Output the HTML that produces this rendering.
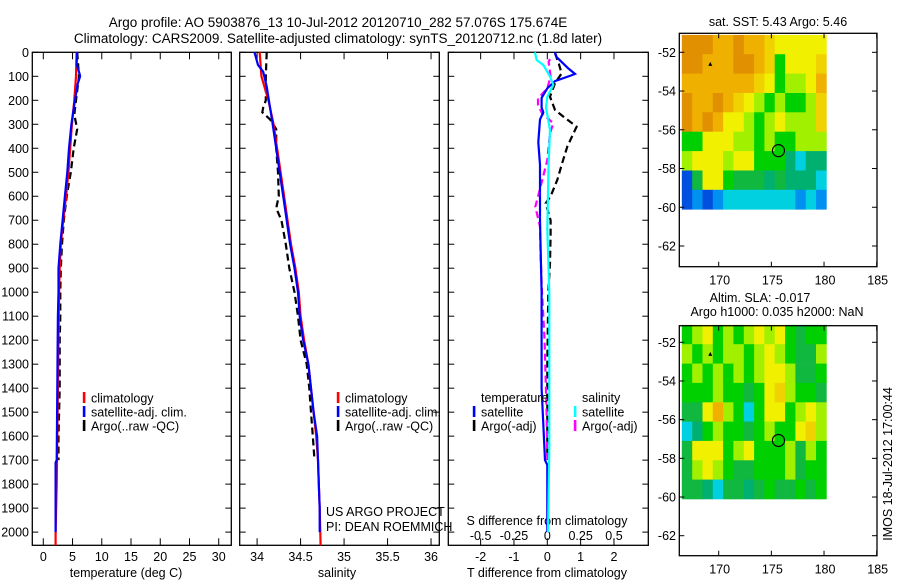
<!DOCTYPE html>
<html><head><meta charset="utf-8"><style>
html,body{margin:0;padding:0;background:#fff;}
svg text{font-family:"Liberation Sans",sans-serif;fill:#000;}
</style></head><body>
<svg id="fig" width="900" height="580" viewBox="0 0 900 580" xmlns="http://www.w3.org/2000/svg">
<text x="338" y="27" font-size="13.5" text-anchor="middle">Argo profile: AO 5903876_13 10-Jul-2012 20120710_282 57.076S 175.674E</text>
<text x="338" y="43" font-size="13.5" text-anchor="middle">Climatology: CARS2009. Satellite-adjusted climatology: synTS_20120712.nc (1.8d later)</text>
<g id="g"></g>
</svg>
<script>
// ---------- data ----------
const depthTicks=[0,100,200,300,400,500,600,700,800,900,1000,1100,1200,1300,1400,1500,1600,1700,1800,1900,2000];
const tempTicks=[0,5,10,15,20,25,30];
const salTicks=[34,34.5,35,35.5,36];
const salTickLabels=["34","34.5","35","35.5","36"];
const tdiffTicks=[-2,-1,0,1,2];
const sdiffTicks=[-0.5,-0.25,0,0.25,0.5];
const sdiffTickLabels=["-0.5","-0.25","0","0.25","0.5"];
const lonTicks=[170,175,180,185];
const latTicks=[-52,-54,-56,-58,-60,-62];

const climTdepth=[0,100,200,300,400,500,600,700,800,900,1000,1200,1400,1600,1800,2000,2055];
const climTval=[5.7,5.6,5.3,4.9,4.6,4.3,3.9,3.4,3.0,2.8,2.7,2.6,2.5,2.4,2.3,2.1,2.1];
const satTdepth=[0,50,90,100,130,200,300,400,500,600,700,800,900,1000,1100,1400,1700,1710,2000];
const satTval=[5.8,5.7,6.2,6.3,5.9,5.4,4.8,4.4,4.1,3.7,3.3,2.9,2.6,2.6,2.5,2.4,2.3,2.1,2.1];
const argoTdepth=[0,100,200,260,320,400,500,600,700,800,900,1000,1100,1200,1400,1600,1700];
const argoTval=[5.8,6.1,5.6,5.3,5.8,5.2,4.7,4.0,3.5,3.2,3.0,2.9,2.9,2.8,2.8,2.6,2.6];

const climSdepth=[0,100,200,300,400,500,600,700,800,900,1000,1100,1200,1300,1400,1500,1600,1700,1800,1900,2055];
const climSval=[34.03,34.05,34.13,34.19,34.23,34.27,34.31,34.35,34.39,34.44,34.48,34.50,34.54,34.59,34.62,34.65,34.68,34.70,34.71,34.72,34.73];
const satSdepth=[0,53,81,143,300,400,500,600,700,800,900,1000,1100,1200,1300,1400,1500,1600,1700,1800,1900,2000];
const satSval=[33.97,34.01,34.07,34.11,34.18,34.22,34.26,34.30,34.34,34.38,34.43,34.47,34.49,34.53,34.59,34.62,34.65,34.69,34.70,34.71,34.72,34.72];
const argoSdepth=[0,100,200,230,250,280,320,400,500,600,650,700,800,900,1000,1100,1200,1300,1400,1500,1600,1700];
const argoSval=[34.11,34.10,34.10,34.07,34.06,34.15,34.22,34.22,34.24,34.25,34.22,34.28,34.33,34.37,34.43,34.47,34.50,34.57,34.60,34.62,34.64,34.66];

const satTdDepth=[0,20,67,90,97,120,150,190,230,250,280,375,470,570,700,1000,1400,1700,1720,2000];
const satTdVal=[0.23,0.28,0.63,0.83,0.7,0.23,0,-0.17,-0.17,-0.12,-0.22,-0.27,-0.22,-0.22,-0.22,-0.17,-0.17,-0.07,0,0];
const argoTdDepth=[4,50,88,129,185,240,270,310,393,460,532,600,630,700,760,879,1000,1300,1700];
const argoTdVal=[0.23,0.35,0.43,0.23,0.08,0.23,0.5,0.88,0.6,0.45,0.3,0.1,-0.05,0.1,0.1,0.08,0.03,0,0];
const satSdDepth=[0,32,53,101,136,185,230,324,463,740,1000,1650,2000];
const satSdVal=[-0.093,-0.08,-0.03,0.02,0.045,0,-0.01,0.02,0.01,0,0.015,0.015,0.005];
const argoSdDepth=[28,40,101,150,192,219,254,296,338,449,602,643,726,850,1000,1200,1500,1700];
const argoSdVal=[0.02,0.01,0.025,0,-0.07,-0.07,-0.04,0.045,0.02,0,-0.07,-0.09,-0.055,-0.05,-0.04,-0.02,-0.005,0];

const gridLon0=166.5, gridLonStep=0.98, gridLat0=-51.1, gridLatStep=-1.0;
const sstGrid=[
[7,7,7,6.5,6.5,7,6.5,6.5,6,5.5,5.5,5.5,5.5,5.5],
[7,7,6.5,6.5,6.5,7,7,6.5,6,4.5,5.5,5.5,5.5,6],
[6.5,6.5,6.5,6.5,6.5,6.5,6.5,6,5.5,4.5,5,5,5.5,6.5],
[7,6.5,6.5,7,6.5,6,5.5,5,4.5,5,4.5,4.5,5,6],
[7,6.5,7,6.5,5.5,5.5,5,4.5,5,5.5,5,5,5,6],
[4.5,4.5,5.5,5.5,5.5,5,5,4.5,5,4.5,4.5,5,5,5],
[5,5.5,5.5,5.5,5,5.5,5.5,4.5,4.5,4.5,3.5,3,3.5,3.5],
[2,4,5.5,5.5,4.5,4,4,4,3.5,4,3.5,3.5,3.5,3],
[2,2.5,2,2.5,3,3,3,3,3,3,3,2.5,3,2.5]];
const slaGrid=[
[4.5,5,5.5,4.5,5,4.5,5,5.5,5,5.5,4.5,4,4.5,4.5],
[5,4.5,5,4.5,5,5,4.5,5,5.5,5,4.5,4,4,5],
[4.5,5,4.5,5,4.5,5,4.5,5,5.5,5.5,5,4,4,4.5],
[4.5,4.5,4.5,5,4.5,4.5,4,4.5,5.5,6,5,4.5,4.5,4],
[4,4,5.5,6.5,5,4.5,3,4.5,5.5,5.5,4.5,5,5.5,5],
[3,3.5,4.5,5,4.5,4.5,4,4.5,5,4.5,4.5,5.5,6,5],
[4,5.5,5.5,5.5,4.5,5,5.5,4.5,4.5,4.5,5,4,5,4.5],
[4,5,5.5,5,4.5,4,4,4.5,4.5,4.5,5,4,4.5,4.5],
[4,4,3.5,3,4,4,3.5,4,4.5,4,4,4.5,4,4.5]];
const argoLon=175.674, argoLat=-57.076;
const markLon=169.2, markLat=-52.6;

// ---------- helpers ----------
const NS="http://www.w3.org/2000/svg";
const G=document.getElementById('g');
function mk(tag,attrs,parent){const e=document.createElementNS(NS,tag);for(const k in attrs)e.setAttribute(k,attrs[k]);(parent||G).appendChild(e);return e;}
function lin(d0,d1,r0,r1){return v=>r0+(v-d0)*(r1-r0)/(d1-d0);}

const PT=52.3, PB=545.3;
const yD=lin(0,2055,PT,PB);
const panels=[
 {name:'temperature-panel',l:32.3,r:231.3,x:lin(-1.88,32.15,32.3,231.3)},
 {name:'salinity-panel',l:239.7,r:439.3,x:lin(33.80,36.095,239.7,439.3)},
 {name:'difference-panel',l:448.3,r:648.3,x:lin(-2.97,3.03,448.3,648.3)}];
const xS=lin(-2.97/4,3.03/4,448.3,648.3);

panels.forEach((p,i)=>{
 const fr=mk('rect',{x:p.l,y:PT,width:p.r-p.l,height:PB-PT,fill:'none',stroke:'#000','stroke-width':1.3});
 
 
 depthTicks.forEach(d=>{
  mk('line',{x1:p.l,x2:p.l+6,y1:yD(d),y2:yD(d),stroke:'#000'});
  mk('line',{x1:p.r,x2:p.r-6,y1:yD(d),y2:yD(d),stroke:'#000'});
 });
});
depthTicks.forEach(d=>{
 const t=mk('text',{x:29,y:yD(d)+4.5,'font-size':12.5,'text-anchor':'end'});
 
 
 t.textContent=d;
});
function xticks(p,ticks,labels,ly){
 ticks.forEach((v,i)=>{
  const x=p.x(v);
  mk('line',{x1:x,x2:x,y1:PT,y2:PT+7,stroke:'#000'});
  mk('line',{x1:x,x2:x,y1:PB,y2:PB-7,stroke:'#000'});
  const t=mk('text',{x:x,y:ly,'font-size':12.5,'text-anchor':'middle'});
  
  
  t.textContent=labels?labels[i]:v;
 });
}
xticks(panels[0],tempTicks,null,561);
xticks(panels[1],salTicks,salTickLabels,561);
xticks(panels[2],tdiffTicks,null,561);
sdiffTicks.forEach((v,i)=>{
 const t=mk('text',{x:xS(v),y:540,'font-size':12.5,'text-anchor':'middle'});
 
 
 t.textContent=sdiffTickLabels[i];
});
function label(txt,x,y,name,anchor,size){const t=mk('text',{x:x,y:y,'font-size':size||12.5,'text-anchor':anchor||'middle'});
 
 
 t.textContent=txt;return t;}
label('temperature (deg C)',126,577,'x-axis-title-temperature');
label('salinity',337,577,'x-axis-title-salinity');
label('T difference from climatology',547,577,'x-axis-title-t-diff');
label('S difference from climatology',547,525,'s-diff-axis-title');
label('US ARGO PROJECT',326,516,'project-label','start');
label('PI: DEAN ROEMMICH',326,531,'pi-label','start');

function series(depths,vals,xf,color,dash,name){
 const pts=depths.map((d,i)=>xf(vals[i]).toFixed(1)+','+yD(d).toFixed(1)).join(' ');
 const a={points:pts,fill:'none',stroke:color,'stroke-width':2.2};
 if(dash)a['stroke-dasharray']=dash;
 const e=mk('polyline',a);
 
 
}
const X0=panels[0].x,X1=panels[1].x,X2=panels[2].x;
series(argoTdepth,argoTval,X0,'#000','7,4','argo-temperature-line');
series(climTdepth,climTval,X0,'#f00',null,'climatology-temperature-line');
series(satTdepth,satTval,X0,'#00f',null,'satellite-temperature-line');
series(argoSdepth,argoSval,X1,'#000','7,4','argo-salinity-line');
series(climSdepth,climSval,X1,'#f00',null,'climatology-salinity-line');
series(satSdepth,satSval,X1,'#00f',null,'satellite-salinity-line');
series(argoTdDepth,argoTdVal,X2,'#000','7,4','argo-t-diff-line');
series(argoSdDepth,argoSdVal,xS,'#f0f','7,4','argo-s-diff-line');
series(satTdDepth,satTdVal,X2,'#00f',null,'satellite-t-diff-line');
series(satSdDepth,satSdVal,xS,'#0ff',null,'satellite-s-diff-line');

function legend(x,y,color,txt,name){
 const b=mk('rect',{x:x-1.2,y:y-6,width:2.6,height:11,fill:color});
 
 
 label(txt,x+7,y+4.5,name+'-label','start');
}
legend(84,398,'#f00','climatology','legend-t-climatology');
legend(84,412,'#00f','satellite-adj. clim.','legend-t-satellite');
legend(84,426,'#000','Argo(..raw -QC)','legend-t-argo');
legend(338,398,'#f00','climatology','legend-s-climatology');
legend(338,412,'#00f','satellite-adj. clim.','legend-s-satellite');
legend(338,426,'#000','Argo(..raw -QC)','legend-s-argo');
label('temperature',481,402,'legend-diff-temperature-heading','start');
label('salinity',582,402,'legend-diff-salinity-heading','start');
legend(474,412,'#00f','satellite','legend-diff-t-satellite');
legend(474,426,'#000','Argo(-adj)','legend-diff-t-argo');
legend(575,412,'#0ff','satellite','legend-diff-s-satellite');
legend(575,426,'#f0f','Argo(-adj)','legend-diff-s-argo');

// ---------- maps ----------
const stops=[[1.5,[0,16,160]],[2,[0,80,224]],[2.5,[0,144,240]],[3,[0,208,224]],[3.5,[0,176,112]],[4,[16,184,64]],[4.5,[0,208,0]],[5,[160,240,0]],[5.5,[240,240,0]],[6,[240,210,0]],[6.5,[240,176,0]],[7,[224,144,0]]];
function cmap(v){
 if(v<=stops[0][0])return 'rgb('+stops[0][1]+')';
 for(let i=1;i<stops.length;i++){if(v<=stops[i][0]){const a=stops[i-1],b=stops[i],t=(v-a[0])/(b[0]-a[0]);
  return 'rgb('+a[1].map((c,j)=>Math.round(c+(b[1][j]-c)*t)).join(',')+')';}}
 return 'rgb('+stops[stops.length-1][1]+')';
}
function drawMap(name,top,bottom,lat52y,lat62y,grid){
 const L=679.3,R=877;
 const xL=lin(170,185,718.7,876.7), yL=lin(-52,-62,lat52y,lat62y);
 grid.forEach((row,r)=>row.forEach((v,c)=>{
  const lo=gridLon0+c*gridLonStep, la=gridLat0+r*gridLatStep;
  const x1=xL(lo),x2=xL(lo+gridLonStep),y1=yL(la),y2=yL(la+gridLatStep);
  const e=mk('rect',{x:x1.toFixed(1),y:y1.toFixed(1),width:(x2-x1+0.4).toFixed(1),height:(y2-y1+0.4).toFixed(1),fill:cmap(v)});
  
  
 }));
 const f=mk('rect',{x:L,y:top,width:R-L,height:bottom-top,fill:'none',stroke:'#000','stroke-width':1.3});
 
 
 lonTicks.forEach(v=>{const x=xL(v);
  mk('line',{x1:x,x2:x,y1:top,y2:top+5,stroke:'#000'});
  mk('line',{x1:x,x2:x,y1:bottom,y2:bottom-5,stroke:'#000'});
  label(String(v),x+1,bottom+18,name+'-lon-tick-label');});
 latTicks.forEach(v=>{const y=yL(v);
  mk('line',{x1:L,x2:L+5,y1:y,y2:y,stroke:'#000'});
  mk('line',{x1:R,x2:R-5,y1:y,y2:y,stroke:'#000'});
  label(String(v),676,y+4.5,name+'-lat-tick-label','end');});
 const c=mk('circle',{cx:xL(argoLon),cy:yL(argoLat),r:6,fill:'none',stroke:'#000','stroke-width':1.2});
 
 
 const mx=xL(markLon),my=yL(markLat);
 const t=mk('polygon',{points:(mx-2)+','+(my+2)+' '+(mx+2)+','+(my+2)+' '+mx+','+(my-2),fill:'#000'});
 
 
}
drawMap('sst-map',33.3,266.7,52.3,246,sstGrid);
drawMap('sla-map',325.7,555.7,342.3,535.7,slaGrid);
label('sat. SST: 5.43 Argo: 5.46',778,26,'sst-map-title');
label('Altim. SLA: -0.017',760,302,'sla-map-title-1');
label('Argo h1000: 0.035 h2000: NaN',777,316,'sla-map-title-2');
const v=label('IMOS 18-Jul-2012 17:00:44',0,0,'timestamp-label','middle');
v.setAttribute('transform','translate(892,464) rotate(-90)');
</script>
</body></html>
